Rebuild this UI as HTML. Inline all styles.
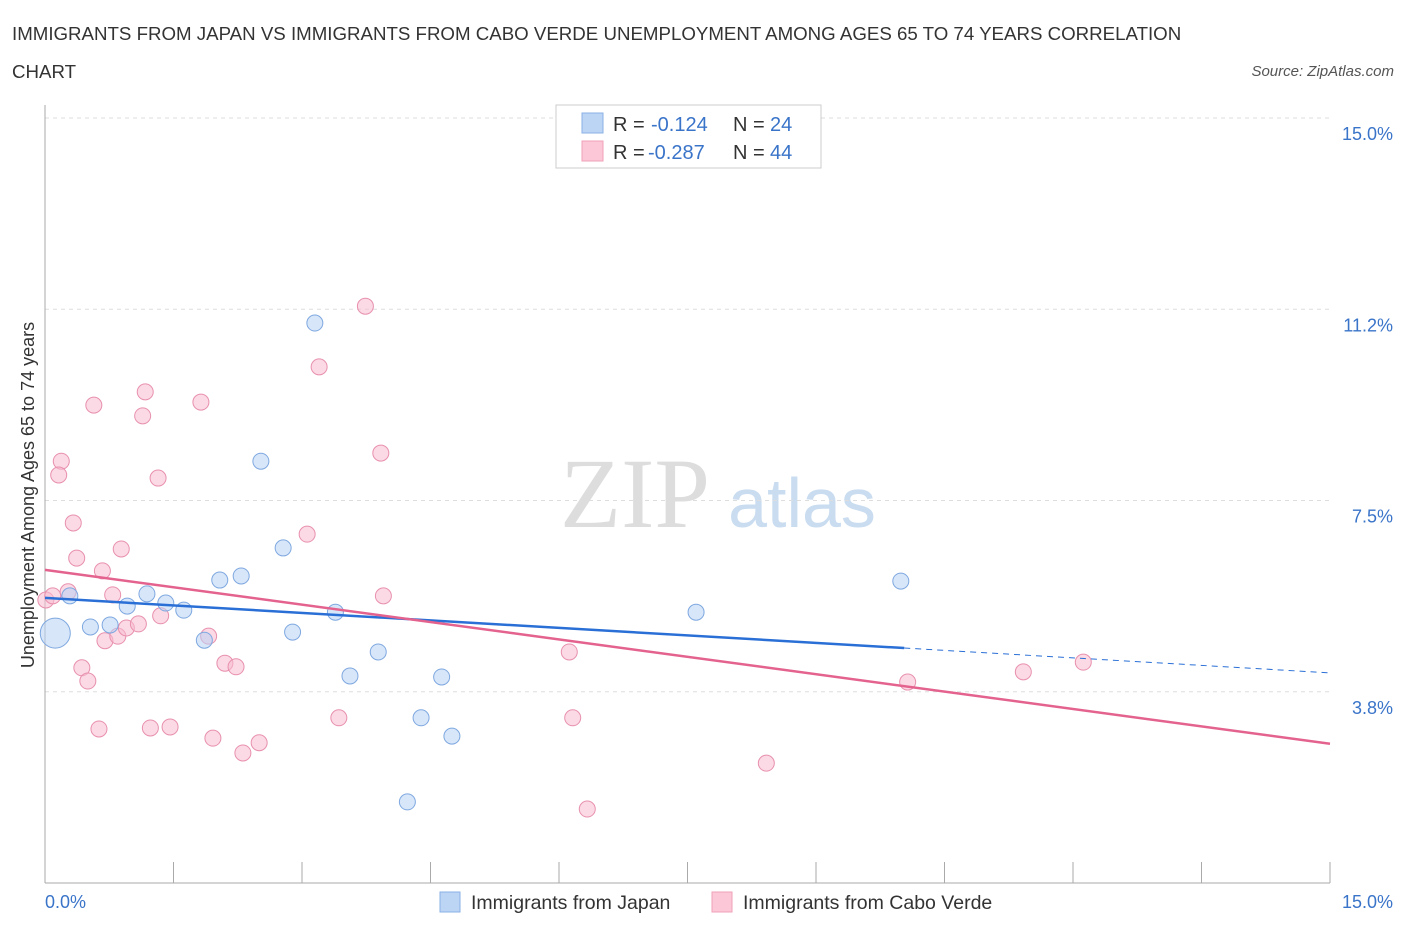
<!DOCTYPE html>
<html><head><meta charset="utf-8"><style>
body{margin:0;background:#fff;font-family:"Liberation Sans",sans-serif;}
</style></head><body>
<svg id="chart" width="1406" height="930" xmlns="http://www.w3.org/2000/svg" font-family="Liberation Sans, sans-serif">
<text x="12" y="40" font-size="18.7" fill="#333">IMMIGRANTS FROM JAPAN VS IMMIGRANTS FROM CABO VERDE UNEMPLOYMENT AMONG AGES 65 TO 74 YEARS CORRELATION</text>
<text x="12" y="78" font-size="18.7" fill="#333">CHART</text>
<text x="1394" y="76" font-size="15" font-style="italic" fill="#555" text-anchor="end">Source: ZipAtlas.com</text>
<text x="635" y="527" font-size="100" style="font-family:'Liberation Serif',serif" fill="#ddd" text-anchor="middle">ZIP</text>
<text x="802" y="527" font-size="70" fill="#c9dcf0" text-anchor="middle">atlas</text>
<g id="grid"></g><g id="axes"></g><g id="marks"></g>
<text x="34" y="495" font-size="18" fill="#333" text-anchor="middle" transform="rotate(-90 34 495)">Unemployment Among Ages 65 to 74 years</text>
<g>
<rect x="556" y="105" width="265" height="63" fill="#fff" stroke="#ccc"/>
<rect x="582" y="113" width="21" height="20" fill="#bcd5f5" stroke="#8ab0e6"/>
<rect x="582" y="141" width="21" height="20" fill="#fcc8d8" stroke="#f0a0ba"/>
<text x="613" y="131" font-size="20" fill="#333">R = </text><text x="651" y="131" font-size="20" fill="#3a74c9">-0.124</text>
<text x="733" y="131" font-size="20" fill="#333">N = </text><text x="770" y="131" font-size="20" fill="#3a74c9">24</text>
<text x="613" y="159" font-size="20" fill="#333">R = </text><text x="648" y="159" font-size="20" fill="#3a74c9">-0.287</text>
<text x="733" y="159" font-size="20" fill="#333">N = </text><text x="770" y="159" font-size="20" fill="#3a74c9">44</text>
</g>
<g>
<rect x="440" y="892" width="20" height="20" fill="#bcd5f5" stroke="#8ab0e6"/>
<text x="471" y="909" font-size="19.5" fill="#333">Immigrants from Japan</text>
<rect x="712" y="892" width="20" height="20" fill="#fcc8d8" stroke="#f0a0ba"/>
<text x="743" y="909" font-size="19.5" fill="#333">Immigrants from Cabo Verde</text>
</g>
</svg>
<script>
const yTicks=[3.75,7.5,11.25,15];
const yTickLabels=["3.8%","7.5%","11.2%","15.0%"];
const xTickLabels=["0.0%","15.0%"];
const japanX=[0.12,0.29,0.53,0.76,0.96,1.19,1.41,1.62,1.86,2.04,2.29,2.52,2.78,2.89,3.15,3.39,3.56,3.89,4.23,4.39,4.63,4.75,7.60,9.99];
const japanY=[4.90,5.63,5.02,5.06,5.43,5.67,5.49,5.35,4.76,5.94,6.02,8.27,6.57,4.92,10.98,5.31,4.06,4.53,1.59,3.24,4.04,2.88,5.31,5.92];
const caboX=[0.19,0.16,0.33,0.37,0.27,0.43,0.50,0.57,0.63,0.67,0.70,0.79,0.85,0.89,0.95,1.09,1.14,1.17,1.32,1.35,1.23,1.46,1.82,1.91,1.96,2.10,2.23,2.31,2.50,3.06,3.20,3.43,3.74,3.92,3.95,6.12,6.16,6.33,8.42,10.07,11.42,12.12,0.01,0.09];
const caboY=[8.27,8.00,7.06,6.37,5.71,4.22,3.96,9.37,3.02,6.12,4.75,5.65,4.84,6.55,5.00,5.08,9.16,9.63,7.94,5.24,3.04,3.06,9.43,4.84,2.84,4.31,4.24,2.55,2.75,6.84,10.12,3.24,11.31,8.43,5.63,4.53,3.24,1.45,2.35,3.94,4.14,4.33,5.55,5.63];
const japanTrend=[5.59,4.12];
const caboTrend=[6.14,2.73];
const japanSolidEnd=10.03;
const NS="http://www.w3.org/2000/svg";
const sx=v=>45+v*(1285/15), sy=v=>883-v*51;
function mk(t,a,p){const e=document.createElementNS(NS,t);for(const k in a)e.setAttribute(k,a[k]);document.getElementById(p).appendChild(e);return e;}
yTicks.forEach((t,i)=>{
 const g=mk('line',{x1:45,x2:1330,y1:sy(t),y2:sy(t),stroke:'#ddd','stroke-dasharray':'4,4'},'grid');
 
 
 const l=mk('text',{x:1393,y:sy(t)+22,'font-size':18,fill:'#3a74c9','text-anchor':'end'},'axes');l.textContent=yTickLabels[i];
 
 
});
const ya=mk('line',{x1:45,x2:45,y1:105,y2:883,stroke:'#aaa'},'axes');


const xa=mk('line',{x1:45,x2:1330,y1:883,y2:883,stroke:'#aaa'},'axes');


for(let i=1;i<=10;i++){const x=45+i*128.5;const t=mk('line',{x1:x,x2:x,y1:862,y2:883,stroke:'#aaa'},'axes');
 
 }
[[0,'start',45],[15,'end',1393]].forEach((d,i)=>{const l=mk('text',{x:d[2],y:908,'font-size':18,fill:'#3a74c9','text-anchor':d[1]},'axes');l.textContent=xTickLabels[i];
 
 });
function dots(X,Y,fill,stroke,name){X.forEach((x,i)=>{const c=mk('circle',{cx:sx(x),cy:sy(Y[i]),r:(name==='japan-point'&&i===0)?15:8,fill:fill,stroke:stroke,'stroke-width':1,'fill-opacity':0.55},'marks');
 
 });}
dots(caboX,caboY,'#f8bcd0','#e890ae','cabo-verde-point');
dots(japanX,japanY,'#b8d2f4','#7ea8e0','japan-point');
const jy=v=>japanTrend[0]+(japanTrend[1]-japanTrend[0])*v/15;
const l1=mk('line',{x1:sx(0),y1:sy(jy(0)),x2:sx(japanSolidEnd),y2:sy(jy(japanSolidEnd)),stroke:'#2a6fd6','stroke-width':2.5},'marks');


const l2=mk('line',{x1:sx(japanSolidEnd),y1:sy(jy(japanSolidEnd)),x2:sx(15),y2:sy(jy(15)),stroke:'#2a6fd6','stroke-width':1,'stroke-dasharray':'6,5'},'marks');


const l3=mk('line',{x1:sx(0),y1:sy(caboTrend[0]),x2:sx(15),y2:sy(caboTrend[1]),stroke:'#e4628e','stroke-width':2.5},'marks');


</script>
</body></html>
